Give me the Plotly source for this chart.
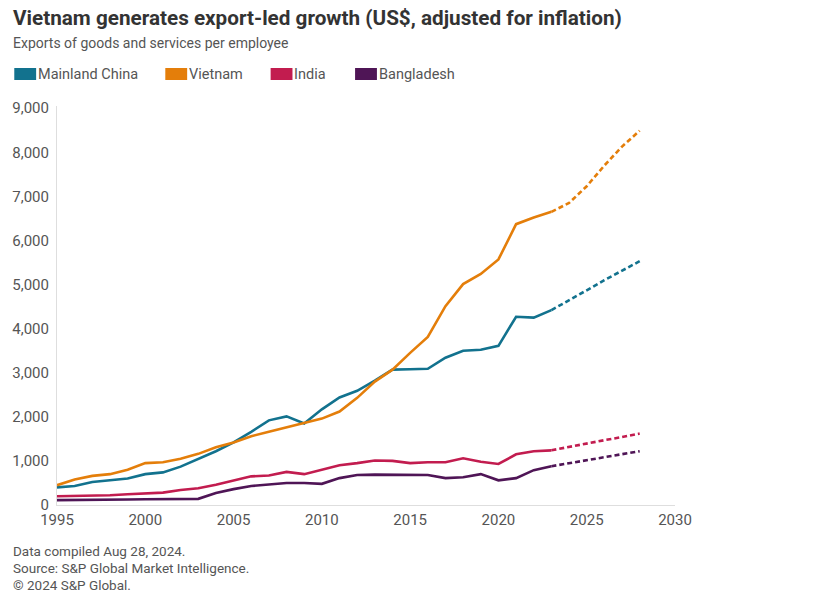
import plotly.graph_objects as go

# historical years and the forecast years (forecast starts at the last actual point)
years = list(range(1995, 2024))
fc_years = list(range(2023, 2029))

china = [400, 430, 520, 560, 600, 700, 740, 870, 1050, 1220, 1420, 1660, 1920, 2010, 1850,
         2170, 2440, 2590, 2820, 3070, 3080, 3090, 3340, 3500, 3520, 3610, 4270, 4250, 4420]
vietnam = [450, 580, 660, 700, 800, 950, 970, 1050, 1160, 1310, 1420, 1560, 1660, 1760, 1850,
           1960, 2120, 2430, 2800, 3070, 3450, 3810, 4510, 5010, 5240, 5570, 6370, 6520, 6650]
india = [200, 210, 205, 220, 245, 270, 280, 340, 380, 460, 560, 650, 670, 750, 700,
         800, 900, 950, 1010, 1000, 950, 970, 970, 1060, 980, 930, 1150, 1220, 1240]
bangladesh = [110, 110, 115, 120, 125, 130, 135, 140, 140, 270, 360, 430, 470, 500, 500,
              480, 610, 680, 690, 690, 680, 680, 610, 630, 700, 560, 610, 790, 880]

china_fc = [4420, 4640, 4870, 5100, 5320, 5530]
vietnam_fc = [6650, 6850, 7230, 7700, 8130, 8490]
india_fc = [1240, 1320, 1400, 1470, 1540, 1620]
bangladesh_fc = [880, 950, 1020, 1090, 1150, 1220]

names = ["Mainland China", "Vietnam", "India", "Bangladesh"]
colors = ["#12728e", "#e47e0a", "#c21c4f", "#4f1556"]

FONT = "Roboto"

# figure fills the page (body margin removed below), positions in page pixels
W, H = 822, 600
L, T, R, B = 53, 106, 147, 95
PW, PH = W - L - R, H - T - B


def px(x):
    return (x - L) / PW


def py(y):
    return (H - B - y) / PH


fig = go.Figure()
series = [(china, china_fc), (vietnam, vietnam_fc), (india, india_fc), (bangladesh, bangladesh_fc)]
for (hist, fc), name, col in zip(series, names, colors):
    fig.add_trace(go.Scatter(x=years, y=hist, mode="lines", name=name,
                             line=dict(color=col, width=2.6), showlegend=False))
    fig.add_trace(go.Scatter(x=fc_years, y=fc, mode="lines", name=name + " (forecast)",
                             line=dict(color=col, width=2.6, dash="5px,3px"), showlegend=False))

# legend drawn by hand: colour squares + labels
legend_x = [10, 162, 268, 353]
for lx, name, col in zip(legend_x, names, colors):
    fig.add_shape(type="rect", xref="paper", yref="paper",
                  x0=px(lx), x1=px(lx + 22), y0=py(80), y1=py(68),
                  fillcolor=col, line=dict(width=0))
    fig.add_annotation(text=name, xref="paper", yref="paper",
                       x=px(lx + 22), y=py(74),
                       xanchor="left", yanchor="middle", showarrow=False,
                       font=dict(family=FONT, size=14.5, color="#555555"))

fig.add_annotation(text="<b>Vietnam generates export-led growth (US$, adjusted for inflation)</b>",
                   xref="paper", yref="paper", x=px(7), y=py(18),
                   xanchor="left", yanchor="middle", showarrow=False,
                   font=dict(family=FONT, size=20.7, color="#333333"))
fig.add_annotation(text="Exports of goods and services per employee",
                   xref="paper", yref="paper", x=px(7), y=py(43),
                   xanchor="left", yanchor="middle", showarrow=False,
                   font=dict(family=FONT, size=14, color="#555555"))

footer = ["Data compiled Aug 28, 2024.", "Source: S&P Global Market Intelligence.", "© 2024 S&P Global."]
for i, line in enumerate(footer):
    fig.add_annotation(text=line, xref="paper", yref="paper",
                       x=px(7), y=py(551 + 17 * i),
                       xanchor="left", yanchor="middle", showarrow=False,
                       font=dict(family=FONT, size=13.5, color="#555555"))

fig.update_layout(
    width=W, height=H,
    margin=dict(l=L, r=R, t=T, b=B),
    paper_bgcolor="white", plot_bgcolor="white",
    font=dict(family=FONT, color="#555555"),
    showlegend=False,
)
fig.update_xaxes(range=[1995, 2030], tickvals=[1995, 2000, 2005, 2010, 2015, 2020, 2025, 2030],
                 showgrid=False, zeroline=False, showline=True, linecolor="#dedede", linewidth=1,
                 ticks="", ticklabelstandoff=1, tickfont=dict(family=FONT, size=15, color="#555555"))
fig.update_yaxes(range=[0, 9050], tickvals=list(range(0, 10000, 1000)), tickformat=",",
                 showgrid=False, zeroline=False, showline=True, linecolor="#dedede", linewidth=1,
                 ticks="", ticklabelstandoff=4, tickfont=dict(family=FONT, size=15, color="#555555"))

fig.write_html("out.html", config={"displayModeBar": False},
               post_script="document.body.style.margin = '0';")
